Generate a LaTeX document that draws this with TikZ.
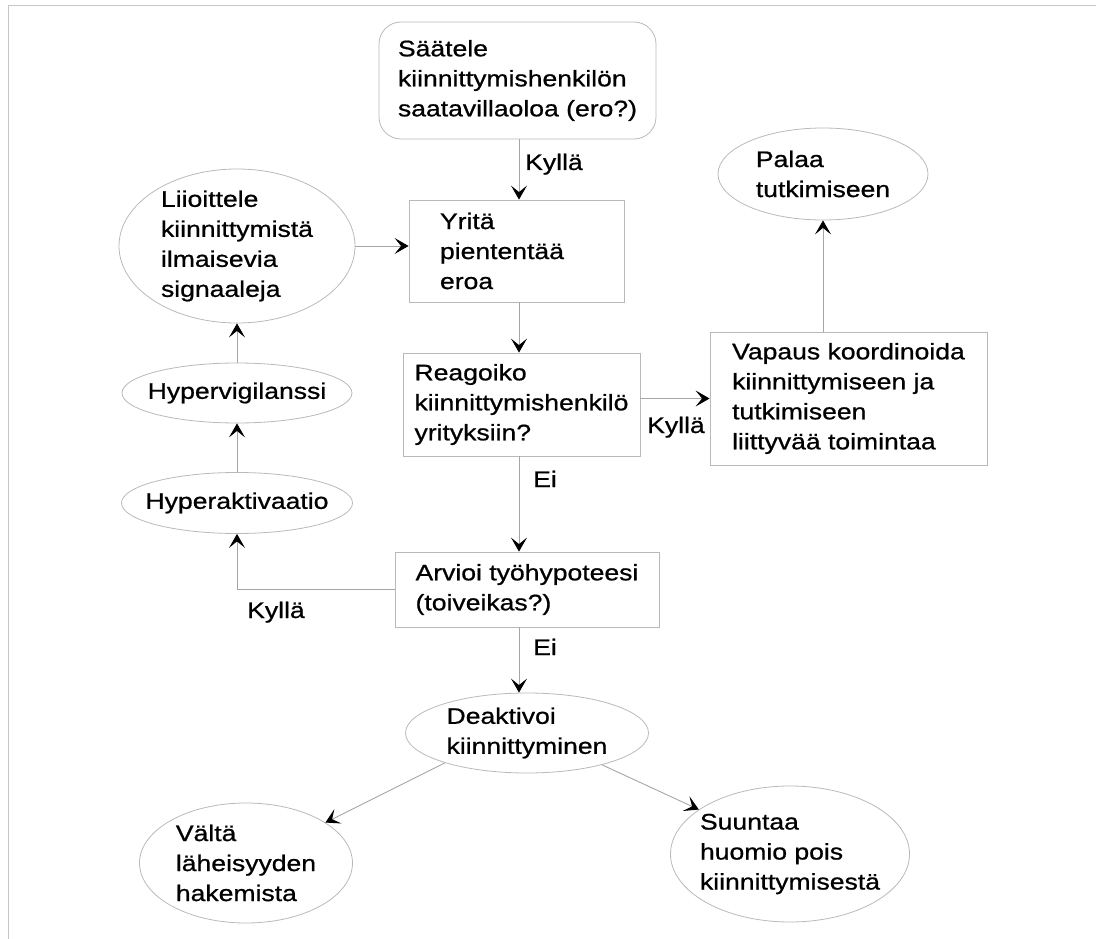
\documentclass[tikz,border=0pt]{standalone}
\usepackage{fontspec}
\setmainfont{Liberation Sans}[FakeStretch=1.18,FakeBold=0.8]
\usetikzlibrary{arrows.meta,shapes.geometric}
\begin{document}
\begin{tikzpicture}[x=1pt,y=-1pt,
  txt/.style={font=\fontsize{22.5}{30}\selectfont, align=left, text=black},
  rbox/.style={txt, draw=gray!55, line width=0.8pt, rectangle, inner sep=0pt},
  ell/.style={txt, draw=gray!55, line width=0.8pt, ellipse, inner xsep=-90pt, inner ysep=-90pt},
  conn/.style={draw=gray!70, line width=0.9pt, -{Stealth[black,length=14pt,width=16pt,inset=6.5pt]}},
  lbl/.style={txt, inner sep=0pt, anchor=base west}]
\useasboundingbox (0,0) rectangle (1096,939);
\draw[gray!45, line width=0.7pt] (8,939) -- (8,5) -- (1096,5);

% rectangles
\node[rbox, minimum width=277pt, minimum height=117pt, rounded corners=22pt] (saat) at (517.5,80.5)
  {Säätele\\kiinnittymishenkilön\\saatavillaoloa (ero?)};
\node[rbox, text width=153pt, inner xsep=31pt, minimum height=102pt] (yrita) at (516.5,251)
  {Yritä\\piententää\\eroa};
\node[rbox, minimum width=237pt, minimum height=103pt] (reag) at (521.5,404.5)
  {Reagoiko\\kiinnittymishenkilö\\yrityksiin?};
\node[rbox, minimum width=277pt, minimum height=133pt] (vapaus) at (848.5,398.5)
  {Vapaus koordinoida\\kiinnittymiseen ja\\tutkimiseen\\liittyvää toimintaa};
\node[rbox, minimum width=264pt, minimum height=75pt] (arvioi) at (527,589.5)
  {Arvioi työhypoteesi\\(toiveikas?)};

% ellipses
\node[ell, minimum width=236pt, minimum height=154pt] (liio) at (237,246)
  {Liioittele\\kiinnittymistä\\ilmaisevia\\signaaleja};
\node[ell, minimum width=210pt, minimum height=92pt] (palaa) at (823,174)
  {Palaa\\tutkimiseen};
\node[ell, minimum width=230pt, minimum height=60pt] (hyperv) at (237,393)
  {Hypervigilanssi};
\node[ell, minimum width=231pt, minimum height=61pt] (hypera) at (237,503)
  {Hyperaktivaatio};
\node[ell, minimum width=243pt, minimum height=80pt] (deak) at (527,733)
  {Deaktivoi\\kiinnittyminen};
\node[ell, minimum width=213pt, minimum height=120pt] (valta) at (246,863)
  {Vältä\\läheisyyden\\hakemista};
\node[ell, minimum width=239pt, minimum height=136pt] (suun) at (790,854)
  {Suuntaa\\huomio pois\\kiinnittymisestä};

\coordinate (spine) at (519,0);

% connectors
\draw[conn] (saat.south -| spine) -- (yrita.north -| spine);
\draw[conn] (liio.east) -- (liio.east -| yrita.west);
\draw[conn] (yrita.south -| spine) -- (reag.north -| spine);
\draw[conn] (reag.east |- vapaus.west) -- (vapaus.west);
\draw[conn] (vapaus.north -| palaa.south) -- (palaa.south);
\draw[conn] (reag.south -| spine) -- (arvioi.north -| spine);
\draw[conn] (arvioi.west) -| (hypera.south);
\draw[conn] (hypera.north) -- (hyperv.south);
\draw[conn] (hyperv.north) -- (liio.south);
\draw[conn] (arvioi.south -| spine) -- (deak.north -| spine);
\draw[conn] (deak.200) -- (valta.27);
\draw[conn] (deak.337) -- (suun.154);

% labels
\node[lbl] (l1) at (525,170) {Kyllä};
\node[lbl] (l2) at (647,433) {Kyllä};
\node[lbl] (l3) at (533,487) {Ei};
\node[lbl] (l4) at (247,618) {Kyllä};
\node[lbl] (l5) at (533,655) {Ei};
\end{tikzpicture}
\end{document}
